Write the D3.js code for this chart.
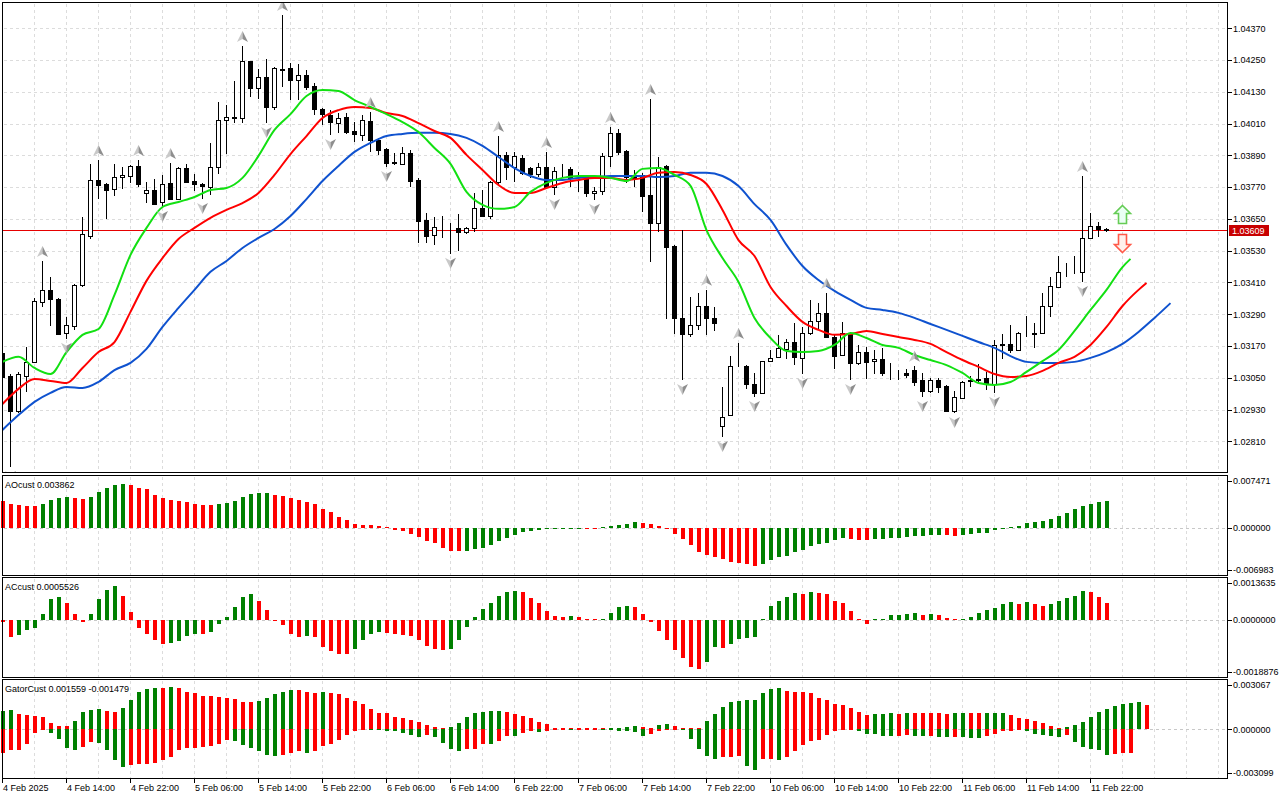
<!DOCTYPE html>
<html>
<head>
<meta charset="utf-8">
<script src="https://cdn.jsdelivr.net/npm/d3@7"></script>
<style>
  body { margin: 0; background: #fff; }
  text { font-family: "Liberation Sans", Arial, sans-serif; font-size: 9px; fill: #000; }
</style>
</head>
<body>
<svg id="chart" width="1280" height="800"></svg>
<script>
// EURUSD H1, 4 Feb 06:00 .. 11 Feb 2025, one entry per bar
const open = [
  1.03144, 1.03057, 1.02925, 1.03057, 1.03110, 1.03336, 1.03382, 1.03348, 1.03219, 1.03246,
  1.03400, 1.03586, 1.03797, 1.03782, 1.03763, 1.03808, 1.03812, 1.03850, 1.03748, 1.03759,
  1.03714, 1.03786, 1.03725, 1.03842, 1.03793, 1.03782, 1.03771, 1.03846, 1.04024, 1.04035,
  1.04031, 1.04246, 1.04145, 1.04186, 1.04073, 1.04216, 1.04220, 1.04175, 1.04194, 1.04152,
  1.04065, 1.04043, 1.04012, 1.04035, 1.03982, 1.03967, 1.04020, 1.03948, 1.03914, 1.03865,
  1.03858, 1.03899, 1.03797, 1.03646, 1.03589, 1.03620, 1.03616, 1.03616, 1.03601, 1.03616,
  1.03691, 1.03661, 1.03790, 1.03892, 1.03846, 1.03880, 1.03842, 1.03820, 1.03846, 1.03771,
  1.03835, 1.03839, 1.03805, 1.03805, 1.03748, 1.03756, 1.03888, 1.03975, 1.03907, 1.03808,
  1.03816, 1.03740, 1.03635, 1.03850, 1.03548, 1.03276, 1.03215, 1.03249, 1.03321, 1.03276,
  1.02868, 1.02909, 1.03095, 1.03095, 1.03027, 1.02993, 1.03113, 1.03129, 1.03159, 1.03185,
  1.03125, 1.03219, 1.03264, 1.03295, 1.03204, 1.03136, 1.03219, 1.03106, 1.03147, 1.03113,
  1.03121, 1.03068, 1.03068, 1.03068, 1.03079, 1.03042, 1.03000, 1.03042, 1.03019, 1.02925,
  1.02974, 1.03038, 1.03042, 1.03049, 1.03027, 1.03174, 1.03178, 1.03155, 1.03215, 1.03215,
  1.03219, 1.03321, 1.03393, 1.03450, 1.03450, 1.03450, 1.03578, 1.03623, 1.03612
];
const high = [
  1.03174, 1.03064, 1.03072, 1.03166, 1.03351, 1.03491, 1.03431, 1.03351, 1.03280, 1.03404,
  1.03657, 1.03858, 1.03873, 1.03786, 1.03858, 1.03846, 1.03854, 1.03873, 1.03790, 1.03801,
  1.03816, 1.03861, 1.03846, 1.03858, 1.03820, 1.03786, 1.03937, 1.04092, 1.04080, 1.04171,
  1.04303, 1.04246, 1.04216, 1.04254, 1.04224, 1.04420, 1.04239, 1.04235, 1.04213, 1.04163,
  1.04069, 1.04061, 1.04050, 1.04050, 1.04016, 1.04043, 1.04054, 1.03956, 1.03918, 1.03899,
  1.03922, 1.03910, 1.03805, 1.03672, 1.03657, 1.03661, 1.03635, 1.03669, 1.03620, 1.03748,
  1.03759, 1.03793, 1.03963, 1.03903, 1.03903, 1.03892, 1.03846, 1.03861, 1.03903, 1.03846,
  1.03858, 1.03846, 1.03827, 1.03808, 1.03771, 1.03899, 1.03997, 1.03990, 1.03910, 1.03835,
  1.03824, 1.04103, 1.03884, 1.03854, 1.03552, 1.03608, 1.03355, 1.03370, 1.03382, 1.03317,
  1.03015, 1.03132, 1.03181, 1.03098, 1.03068, 1.03113, 1.03155, 1.03212, 1.03197, 1.03257,
  1.03242, 1.03344, 1.03332, 1.03370, 1.03212, 1.03261, 1.03223, 1.03174, 1.03166, 1.03155,
  1.03163, 1.03106, 1.03079, 1.03083, 1.03095, 1.03068, 1.03049, 1.03049, 1.03023, 1.03000,
  1.03038, 1.03057, 1.03102, 1.03072, 1.03193, 1.03215, 1.03249, 1.03223, 1.03283, 1.03257,
  1.03370, 1.03431, 1.03510, 1.03484, 1.03510, 1.03812, 1.03672, 1.03638, 1.03616
];
const low = [
  1.03023, 1.02713, 1.02917, 1.02996, 1.03106, 1.03317, 1.03246, 1.03212, 1.03197, 1.03231,
  1.03393, 1.03574, 1.03725, 1.03650, 1.03737, 1.03763, 1.03786, 1.03771, 1.03710, 1.03703,
  1.03695, 1.03722, 1.03722, 1.03786, 1.03756, 1.03725, 1.03740, 1.03820, 1.03895, 1.04012,
  1.04012, 1.04111, 1.04103, 1.04012, 1.04061, 1.04148, 1.04099, 1.04099, 1.04137, 1.04043,
  1.04005, 1.03967, 1.03975, 1.03971, 1.03941, 1.03944, 1.03903, 1.03892, 1.03846, 1.03854,
  1.03854, 1.03771, 1.03559, 1.03559, 1.03552, 1.03578, 1.03518, 1.03529, 1.03593, 1.03601,
  1.03661, 1.03650, 1.03774, 1.03797, 1.03790, 1.03816, 1.03805, 1.03808, 1.03771, 1.03740,
  1.03808, 1.03771, 1.03752, 1.03733, 1.03722, 1.03740, 1.03846, 1.03892, 1.03786, 1.03771,
  1.03676, 1.03487, 1.03601, 1.03272, 1.03215, 1.03042, 1.03204, 1.03231, 1.03212, 1.03227,
  1.02826, 1.02906, 1.03091, 1.03008, 1.02977, 1.02989, 1.03110, 1.03125, 1.03121, 1.03098,
  1.03064, 1.03212, 1.03231, 1.03200, 1.03083, 1.03132, 1.03042, 1.03098, 1.03045, 1.03064,
  1.03057, 1.03042, 1.03042, 1.03049, 1.03019, 1.02977, 1.02993, 1.02993, 1.02921, 1.02917,
  1.02970, 1.03015, 1.03030, 1.03004, 1.02993, 1.03121, 1.03144, 1.03151, 1.03204, 1.03163,
  1.03215, 1.03280, 1.03389, 1.03431, 1.03442, 1.03412, 1.03574, 1.03582, 1.03601
];
const close = [
  1.03053, 1.02925, 1.03064, 1.03110, 1.03340, 1.03382, 1.03348, 1.03215, 1.03249, 1.03400,
  1.03593, 1.03797, 1.03778, 1.03759, 1.03808, 1.03816, 1.03850, 1.03782, 1.03759, 1.03706,
  1.03782, 1.03725, 1.03842, 1.03790, 1.03782, 1.03774, 1.03846, 1.04024, 1.04035, 1.04033,
  1.04246, 1.04145, 1.04186, 1.04073, 1.04220, 1.04214, 1.04175, 1.04194, 1.04148, 1.04065,
  1.04046, 1.04016, 1.04031, 1.03978, 1.03971, 1.04024, 1.03948, 1.03910, 1.03861, 1.03860,
  1.03899, 1.03793, 1.03642, 1.03586, 1.03620, 1.03621, 1.03615, 1.03601, 1.03616, 1.03691,
  1.03661, 1.03790, 1.03892, 1.03846, 1.03888, 1.03824, 1.03820, 1.03846, 1.03771, 1.03831,
  1.03834, 1.03805, 1.03804, 1.03748, 1.03756, 1.03888, 1.03975, 1.03903, 1.03808, 1.03805,
  1.03737, 1.03635, 1.03846, 1.03544, 1.03276, 1.03215, 1.03249, 1.03321, 1.03276, 1.03257,
  1.02902, 1.03095, 1.03094, 1.03027, 1.02993, 1.03113, 1.03125, 1.03163, 1.03185, 1.03129,
  1.03219, 1.03264, 1.03295, 1.03204, 1.03132, 1.03219, 1.03106, 1.03147, 1.03110, 1.03121,
  1.03068, 1.03067, 1.03069, 1.03061, 1.03034, 1.03000, 1.03042, 1.03015, 1.02925, 1.02977,
  1.03034, 1.03042, 1.03045, 1.03027, 1.03174, 1.03177, 1.03155, 1.03219, 1.03216, 1.03218,
  1.03321, 1.03397, 1.03450, 1.03451, 1.03451, 1.03578, 1.03623, 1.03612, 1.03609
];

// Alligator, sampled every 2 bars from bar 0 (last value sits on the line's final bar)
const jaw = [
  1.02853, 1.02909, 1.02959, 1.02993, 1.03015, 1.03011, 1.03034, 1.03079, 1.03106, 1.03159,
  1.03242, 1.03314, 1.03382, 1.03450, 1.03491, 1.03540, 1.03578, 1.03612, 1.03661, 1.03725,
  1.03793, 1.03850, 1.03903, 1.03937, 1.03963, 1.03971, 1.03975, 1.03975, 1.03971, 1.03956,
  1.03926, 1.03884, 1.03842, 1.03812, 1.03797, 1.03797, 1.03805, 1.03808, 1.03812, 1.03812,
  1.03812, 1.03808, 1.03812, 1.03824, 1.03824, 1.03812, 1.03774, 1.03706, 1.03646, 1.03552,
  1.03472, 1.03419, 1.03378, 1.03344, 1.03314, 1.03306, 1.03295, 1.03276, 1.03253, 1.03231,
  1.03208, 1.03185, 1.03163, 1.03132, 1.03110, 1.03106, 1.03106, 1.03110, 1.03125, 1.03147,
  1.03178, 1.03223, 1.03276, 1.03332
];
const jawLastBar = 146;
const teeth = [
  1.02951, 1.03008, 1.03045, 1.03038, 1.03030, 1.03087, 1.03147, 1.03185, 1.03299, 1.03416,
  1.03502, 1.03574, 1.03616, 1.03654, 1.03684, 1.03710, 1.03748, 1.03816, 1.03895, 1.03963,
  1.04031, 1.04061, 1.04073, 1.04069, 1.04050, 1.04039, 1.04012, 1.03982, 1.03956, 1.03892,
  1.03835, 1.03778, 1.03748, 1.03748, 1.03767, 1.03786, 1.03797, 1.03805, 1.03805, 1.03797,
  1.03805, 1.03824, 1.03827, 1.03816, 1.03782, 1.03684, 1.03570, 1.03510, 1.03393, 1.03321,
  1.03261, 1.03231, 1.03212, 1.03215, 1.03227, 1.03215, 1.03204, 1.03193, 1.03178, 1.03147,
  1.03117, 1.03091, 1.03064, 1.03053, 1.03057, 1.03076, 1.03106, 1.03129, 1.03174, 1.03242,
  1.03321, 1.03382, 1.03408
];
const teethLastBar = 143;
const lips = [
  1.03110, 1.03129, 1.03087, 1.03064, 1.03147, 1.03212, 1.03234, 1.03363, 1.03514, 1.03616,
  1.03695, 1.03714, 1.03733, 1.03759, 1.03767, 1.03805, 1.03888, 1.03986, 1.04046, 1.04114,
  1.04137, 1.04133, 1.04099, 1.04073, 1.04046, 1.04016, 1.03978, 1.03918, 1.03858, 1.03752,
  1.03703, 1.03688, 1.03695, 1.03752, 1.03786, 1.03805, 1.03812, 1.03812, 1.03805, 1.03793,
  1.03839, 1.03842, 1.03816, 1.03775, 1.03608, 1.03502, 1.03412, 1.03276, 1.03200, 1.03151,
  1.03147, 1.03151, 1.03174, 1.03219, 1.03200, 1.03174, 1.03163, 1.03136, 1.03117, 1.03098,
  1.03068, 1.03030, 1.03023, 1.03034, 1.03072, 1.03113, 1.03155, 1.03227, 1.03306, 1.03382,
  1.03468, 1.03499
];
const lipsLastBar = 141;

const fractalUp = [5, 12, 17, 21, 30, 35, 46, 62, 68, 76, 81, 88, 92, 103, 114, 135];
const fractalDown = [1, 8, 20, 25, 33, 41, 48, 56, 69, 74, 85, 90, 94, 100, 106, 115, 119, 124, 135];

const ao = [
  0.003924, 0.003427, 0.003278, 0.00326, 0.003129, 0.003427, 0.004073, 0.004321, 0.00447, 0.004321,
  0.004272, 0.00447, 0.005215, 0.005811, 0.006258, 0.006407, 0.006258, 0.005811, 0.005662, 0.004768,
  0.004321, 0.004073, 0.003924, 0.003775, 0.003527, 0.003378, 0.003278, 0.003427, 0.003576, 0.003874,
  0.00447, 0.004917, 0.005066, 0.0051, 0.004768, 0.004619, 0.004321, 0.004073, 0.003725, 0.003427,
  0.002732, 0.002285, 0.001639, 0.001093, 0.000596, 0.000447, 0.000348, 0.000199, 0.0001, -0.000298,
  -0.000546, -0.000894, -0.001341, -0.001937, -0.002334, -0.002931, -0.003427, -0.00348, -0.003378, -0.003129,
  -0.00298, -0.002533, -0.001987, -0.00154, -0.001043, -0.000695, -0.000447, -0.000298, -0.000199, -0.000149,
  -0.0001, -0.00006, -0.00003, -0.00004, -0.00005, 0.00003, 0.0002, 0.00045, 0.0006, 0.00089,
  0.00075, 0.00055, 0.0002, -0.0002, -0.00094, -0.00169, -0.00263, -0.00353, -0.00402, -0.00427,
  -0.00467, -0.00502, -0.00517, -0.00542, -0.00571, -0.00531, -0.00482, -0.00437, -0.00412, -0.00363,
  -0.00328, -0.00273, -0.00248, -0.00219, -0.00189, -0.00154, -0.00164, -0.00179, -0.00189, -0.00169,
  -0.00164, -0.00154, -0.00149, -0.00139, -0.00129, -0.00124, -0.00114, -0.00104, -0.00114, -0.00119,
  -0.00104, -0.00094, -0.00079, -0.00075, -0.0004, -0.00015, 0.0001, 0.0003, 0.0007, 0.00089,
  0.00104, 0.00129, 0.00179, 0.00209, 0.00273, 0.00313, 0.0035, 0.00372, 0.003862
];
const ac = [
  -0.00005, -0.000559, -0.00048, -0.000335, -0.000246, 0.00019, 0.000693, 0.000782, 0.000559, 0.00019,
  -0.000078, 0.00019, 0.000693, 0.000983, 0.001117, 0.000815, 0.000257, -0.000246, -0.000469, -0.000648,
  -0.000782, -0.000748, -0.000704, -0.000514, -0.000447, -0.00046, -0.000402, -0.000145, 0.000089, 0.000447,
  0.000782, 0.00086, 0.000648, 0.000335, -0.00003, -0.000168, -0.000447, -0.000559, -0.000525, -0.000559,
  -0.000894, -0.001028, -0.001117, -0.001128, -0.000949, -0.00067, -0.000447, -0.000391, -0.000424, -0.000469,
  -0.00048, -0.000525, -0.00067, -0.00086, -0.000949, -0.000983, -0.000972, -0.000648, -0.000223, 0.000112,
  0.000357, 0.000559, 0.000815, 0.000916, 0.00095, 0.000916, 0.000748, 0.000559, 0.000313, 0.000145,
  0.000112, 0.000145, 0.000112, 0.000045, 0.00002, 0.00003, 0.000223, 0.000447, 0.00048, 0.000447,
  0.000212, -0.000078, -0.000369, -0.00067, -0.001005, -0.001251, -0.001564, -0.00162, -0.001396, -0.000894,
  -0.000927, -0.000782, -0.000614, -0.000592, -0.000559, 0.000045, 0.00048, 0.000648, 0.00076, 0.000894,
  0.00086, 0.000927, 0.000894, 0.00086, 0.000648, 0.000581, 0.000302, 0.000045, -0.000145, 0.00001,
  0.000034, 0.000179, 0.00018, 0.000212, 0.000223, 0.000179, 0.000212, 0.000179, 0.000078, 0.00001,
  0.00002, 0.000089, 0.000223, 0.000335, 0.000413, 0.000525, 0.000592, 0.000525, 0.000614, 0.000525,
  0.00048, 0.000525, 0.000648, 0.000726, 0.000815, 0.00095, 0.00094, 0.000782, 0.0005526
];
const gatorUp = [
  0.001165, 0.001229, 0.000996, 0.000932, 0.000848, 0.000784, 0.000424, 0.000233, 0.000212, 0.000551,
  0.001102, 0.00125, 0.001314, 0.001144, 0.001123, 0.001377, 0.001886, 0.002394, 0.002585, 0.002649,
  0.002638, 0.002655, 0.002628, 0.002394, 0.002331, 0.00214, 0.002119, 0.002077, 0.002013, 0.001949,
  0.001759, 0.001738, 0.001801, 0.002013, 0.002225, 0.002394, 0.002522, 0.0025, 0.002394, 0.002331,
  0.002373, 0.00233, 0.002225, 0.002013, 0.001801, 0.001589, 0.001314, 0.00106, 0.001017, 0.000805,
  0.000742, 0.000615, 0.000487, 0.000275, 0.000148, 0.000064, 0.00017, 0.000424, 0.000784, 0.00106,
  0.001123, 0.001165, 0.001187, 0.001123, 0.000996, 0.000848, 0.000742, 0.000487, 0.000318, 0.000106,
  0.00009, 0.00007, 0.00006, 0.00005, 0.00004, 0.00003, 0.00005, 0.000085, 0.000148, 0.000212,
  0.000148, 0.000085, 0.000275, 0.000339, 0.000212, 0.000085, 0.000064, 0.00004, 0.000509, 0.000996,
  0.00142, 0.001738, 0.001822, 0.001865, 0.00187, 0.002331, 0.002564, 0.002628, 0.002416, 0.002373,
  0.002365, 0.00231, 0.001992, 0.001865, 0.00161, 0.001568, 0.001356, 0.001102, 0.000932, 0.000975,
  0.000996, 0.001038, 0.000996, 0.001038, 0.001028, 0.001017, 0.00101, 0.001005, 0.001, 0.001038,
  0.00104, 0.001028, 0.001017, 0.001038, 0.001049, 0.00106, 0.00089, 0.00072, 0.000678, 0.000551,
  0.000403, 0.000191, 0.000042, 0.000127, 0.000297, 0.000466, 0.000763, 0.001102, 0.001314, 0.001483,
  0.00161, 0.001674, 0.001716, 0.001559
];
const gatorDown = [
  -0.001483, -0.001335, -0.00133, -0.000954, -0.000254, -0.000042, -0.000254, -0.000636, -0.001208, -0.00134,
  -0.001102, -0.000805, -0.000848, -0.001335, -0.001971, -0.002394, -0.002289, -0.002225, -0.002183, -0.002119,
  -0.00195, -0.001738, -0.001335, -0.001208, -0.001165, -0.001123, -0.00106, -0.000911, -0.000699, -0.000742,
  -0.001017, -0.001208, -0.001377, -0.001632, -0.001695, -0.001632, -0.001483, -0.001377, -0.001526, -0.001377,
  -0.00106, -0.000911, -0.000699, -0.00036, -0.000106, -0.000021, -0.000042, -0.000064, -0.000085, -0.000106,
  -0.000254, -0.00036, -0.000487, -0.00036, -0.000487, -0.00089, -0.001271, -0.001377, -0.001271, -0.00125,
  -0.000911, -0.000954, -0.000742, -0.000424, -0.000445, -0.000212, -0.000106, -0.00017, -0.000106, -0.000064,
  -0.000042, -0.000064, -0.00004, -0.000038, -0.000035, -0.00004, -0.000064, -0.000106, -0.000127, -0.000191,
  -0.000445, -0.000275, -0.000127, -0.000064, -0.000021, -0.00006, -0.000593, -0.001229, -0.001674, -0.001865,
  -0.00178, -0.001759, -0.001674, -0.00231, -0.002564, -0.001886, -0.001865, -0.001928, -0.00178, -0.001399,
  -0.001017, -0.000763, -0.000699, -0.000339, -0.000085, -0.00004, -0.00002, -0.000127, -0.000275, -0.000297,
  -0.000403, -0.000445, -0.000403, -0.00038, -0.000424, -0.00045, -0.000435, -0.000466, -0.000509, -0.000487,
  -0.000512, -0.00053, -0.000572, -0.000445, -0.000297, -0.000127, -0.000085, -0.00004, -0.000127, -0.000297,
  -0.000381, -0.000445, -0.000466, -0.000339, -0.000826, -0.001123, -0.001229, -0.00132, -0.00161, -0.001568,
  -0.001526, -0.001479
];

const priceTicks = [1.02810, 1.02930, 1.03050, 1.03170, 1.03290, 1.03410, 1.03530,
                    1.03650, 1.03770, 1.03890, 1.04010, 1.04130, 1.04250, 1.04370];
const timeBars = [0, 8, 16, 24, 32, 40, 48, 56, 64, 72, 80, 88, 96, 104, 112, 120, 128, 136];
const timeLabels = ["4 Feb 2025", "4 Feb 14:00", "4 Feb 22:00", "5 Feb 06:00", "5 Feb 14:00",
  "5 Feb 22:00", "6 Feb 06:00", "6 Feb 14:00", "6 Feb 22:00", "7 Feb 06:00", "7 Feb 14:00",
  "7 Feb 22:00", "10 Feb 06:00", "10 Feb 14:00", "10 Feb 22:00", "11 Feb 06:00",
  "11 Feb 14:00", "11 Feb 22:00"];
const lastPrice = 1.03609;
const signalBar = 140;

const GREEN = "#008000", RED = "#ff0000";
const svg = d3.select("#chart");
const left = 2.5, right = 1227.5;

svg.append("rect").attr("width", 1280).attr("height", 800).attr("fill", "#fff");

const x = d3.scaleLinear().domain([0, 153]).range([2, 1226]);

// panel frames
const mainTop = 2.5, mainBottom = 472.5;
const y = d3.scaleLinear().domain([1.02810, 1.04370]).range([441.3, 28.3]);

const subs = [
  { top: 475.5, bottom: 575.5, dom: [-0.006983, 0.007471], labels: ["0.007471", "0.000000", "-0.006983"],
    title: "AOcust 0.003862" },
  { top: 577.5, bottom: 677.5, dom: [-0.0018876, 0.0013635], labels: ["0.0013635", "0.0000000", "-0.0018876"],
    title: "ACcust 0.0005526" },
  { top: 679.5, bottom: 778.5, dom: [-0.003099, 0.003067], labels: ["0.003067", "0.000000", "-0.003099"],
    title: "GatorCust 0.001559 -0.001479" }
];
subs.forEach(p => {
  p.y = d3.scaleLinear().domain(p.dom).range([p.bottom - 0.5, p.top + 1.5]);
});

const defs = svg.append("defs");
defs.append("clipPath").attr("id", "clipMain").append("rect")
  .attr("x", 3).attr("y", 3).attr("width", 1224).attr("height", 469);

// vertical grid in every panel
const gridBars = d3.range(0, 154, 4);
const panelsV = [[mainTop, mainBottom]].concat(subs.map(p => [p.top, p.bottom]));
const grid = svg.append("g").attr("stroke", "#dcdcdc").attr("stroke-dasharray", "3,3")
  .attr("shape-rendering", "crispEdges");
panelsV.forEach(([t, b]) => {
  grid.selectAll(null).data(gridBars.filter(i => x(i) > 3 && x(i) < 1227)).enter().append("line")
    .attr("x1", i => x(i) + 0.5).attr("x2", i => x(i) + 0.5)
    .attr("y1", t + 1).attr("y2", b - 1);
});
grid.selectAll(null).data(priceTicks).enter().append("line")
  .attr("x1", left + 1).attr("x2", right - 1)
  .attr("y1", d => Math.round(y(d)) + 0.5).attr("y2", d => Math.round(y(d)) + 0.5);
subs.forEach(p => {
  grid.append("line").attr("x1", left + 1).attr("x2", right - 1)
    .attr("y1", Math.round(p.y(0)) + 0.5).attr("y2", Math.round(p.y(0)) + 0.5)
    .attr("stroke", "#c8c8c8");
});

// main chart contents
const mainG = svg.append("g").attr("clip-path", "url(#clipMain)");

// current price line
const yLast = Math.round(y(lastPrice)) + 0.5;
mainG.append("line").attr("x1", left).attr("x2", right).attr("y1", yLast).attr("y2", yLast)
  .attr("stroke", "#e60000").attr("stroke-width", 1);

// candles
const bars = open.map((o, i) => ({ i, o, h: high[i], l: low[i], c: close[i] }));
const cg = mainG.append("g").attr("shape-rendering", "crispEdges");
cg.selectAll("line.wick").data(bars).enter().append("line")
  .attr("class", "wick")
  .attr("x1", d => x(d.i) + 0.5).attr("x2", d => x(d.i) + 0.5)
  .attr("y1", d => y(d.h)).attr("y2", d => y(d.l))
  .attr("stroke", "#000");
cg.selectAll("rect.body").data(bars).enter().append("rect")
  .attr("class", "body")
  .attr("x", d => x(d.i) - 1.5)
  .attr("y", d => Math.round(y(Math.max(d.o, d.c))) + 0.5)
  .attr("width", 4)
  .attr("height", d => Math.max(0, Math.round(y(Math.min(d.o, d.c))) - Math.round(y(Math.max(d.o, d.c)))))
  .attr("fill", d => d.c > d.o ? "#fff" : "#000")
  .attr("stroke", "#000");

// alligator
const toPts = (vals, lastBar) => vals.map((v, k) => [k === vals.length - 1 ? lastBar : 2 * k, v]);
const line = d3.line().x(d => x(d[0]) + 0.5).y(d => y(d[1])).curve(d3.curveMonotoneX);
[[jaw, jawLastBar, "#0f52cf"], [teeth, teethLastBar, "#ff0000"], [lips, lipsLastBar, "#12e012"]]
  .forEach(([vals, lb, col]) => {
    mainG.append("path").datum(toPts(vals, lb)).attr("d", line)
      .attr("fill", "none").attr("stroke", col).attr("stroke-width", 2);
  });

// fractals
function fractal(g, cx, cy, up) {
  const s = up ? 1 : -1;
  const f = g.append("g").attr("transform", `translate(${cx + 0.5},${cy})`);
  f.append("path").attr("d", `M0,${-6 * s} L${-5.5},${5 * s} L0,${2 * s} Z`).attr("fill", "#c9c9c9");
  f.append("path").attr("d", `M0,${-6 * s} L5.5,${5 * s} L0,${2 * s} Z`).attr("fill", "#8e8e8e");
}
const fg = mainG.append("g");
fractalUp.forEach(i => fractal(fg, x(i), y(high[i]) - 9, true));
fractalDown.forEach(i => fractal(fg, x(i), y(low[i]) + 9, false));

// signal arrows next to the last bar
const sx = x(signalBar) + 0.5;
mainG.append("path")
  .attr("d", "M0,-9 L8,-1 L4,-1 L4,9 L-4,9 L-4,-1 L-8,-1 Z")
  .attr("transform", `translate(${sx},${yLast - 16})`)
  .attr("fill", "#eafff4").attr("stroke", "#66cc55").attr("stroke-width", 1.6);
mainG.append("path")
  .attr("d", "M0,9 L8,1 L4,1 L4,-9 L-4,-9 L-4,1 L-8,1 Z")
  .attr("transform", `translate(${sx},${yLast + 13})`)
  .attr("fill", "#fff0ec").attr("stroke", "#ff5a4a").attr("stroke-width", 1.6);

// histograms
function histo(p, vals, colors) {
  const z = p.y(0);
  svg.append("g").attr("shape-rendering", "crispEdges")
    .selectAll(null).data(vals).enter().append("rect")
    .attr("x", (d, i) => x(i) - 1.5)
    .attr("width", 4)
    .attr("y", d => d >= 0 ? Math.min(p.y(d), z - 1) : z)
    .attr("height", d => Math.max(1, Math.abs(p.y(d) - z)))
    .attr("fill", (d, i) => colors[i]);
}
const byChange = (vals, first) => vals.map((v, i) => i === 0 ? first : (v > vals[i - 1] ? GREEN : RED));
const byAbs = (vals, first) => vals.map((v, i) => i === 0 ? first : (Math.abs(v) > Math.abs(vals[i - 1]) ? GREEN : RED));
histo(subs[0], ao, byChange(ao, RED));
histo(subs[1], ac, byChange(ac, RED));
histo(subs[2], gatorUp, byAbs(gatorUp, GREEN));
histo(subs[2], gatorDown, byAbs(gatorDown, RED));

// frames
const frames = svg.append("g").attr("fill", "none").attr("stroke", "#000").attr("shape-rendering", "crispEdges");
frames.append("rect").attr("x", left).attr("y", mainTop).attr("width", right - left).attr("height", mainBottom - mainTop);
subs.forEach(p => frames.append("rect").attr("x", left).attr("y", p.top)
  .attr("width", right - left).attr("height", p.bottom - p.top));

// price axis
const ax = svg.append("g");
ax.selectAll(null).data(priceTicks).enter().append("line")
  .attr("x1", right).attr("x2", right + 4)
  .attr("y1", d => Math.round(y(d)) + 0.5).attr("y2", d => Math.round(y(d)) + 0.5)
  .attr("stroke", "#000").attr("shape-rendering", "crispEdges");
ax.selectAll(null).data(priceTicks).enter().append("text")
  .attr("x", 1233).attr("y", d => y(d) + 3.3)
  .text(d => d3.format(".5f")(d));
ax.append("rect").attr("x", 1229).attr("y", yLast - 5.5).attr("width", 40).attr("height", 11)
  .attr("fill", "#c80000");
ax.append("text").attr("x", 1232).attr("y", yLast + 3.3).style("fill", "#fff")
  .text(d3.format(".5f")(lastPrice));

// sub-panel axes and titles
subs.forEach(p => {
  const vals = [p.dom[1], 0, p.dom[0]];
  vals.forEach((v, k) => {
    const yy = Math.min(Math.max(p.y(v), p.top + 5), p.bottom - 6);
    ax.append("line").attr("x1", right).attr("x2", right + 4)
      .attr("y1", Math.round(yy) + 0.5).attr("y2", Math.round(yy) + 0.5)
      .attr("stroke", "#000").attr("shape-rendering", "crispEdges");
    ax.append("text").attr("x", 1233).attr("y", yy + 3.3).text(p.labels[k]);
  });
  ax.append("text").attr("x", 5).attr("y", p.top + 12.5).text(p.title);
});

// time axis
ax.selectAll(null).data(timeBars).enter().append("line")
  .attr("x1", i => x(i) + 0.5).attr("x2", i => x(i) + 0.5)
  .attr("y1", 778.5).attr("y2", 783)
  .attr("stroke", "#000").attr("shape-rendering", "crispEdges");
ax.selectAll(null).data(timeBars).enter().append("text")
  .attr("x", i => x(i) + 1).attr("y", 791)
  .text((i, k) => timeLabels[k]);
</script>
</body>
</html>
